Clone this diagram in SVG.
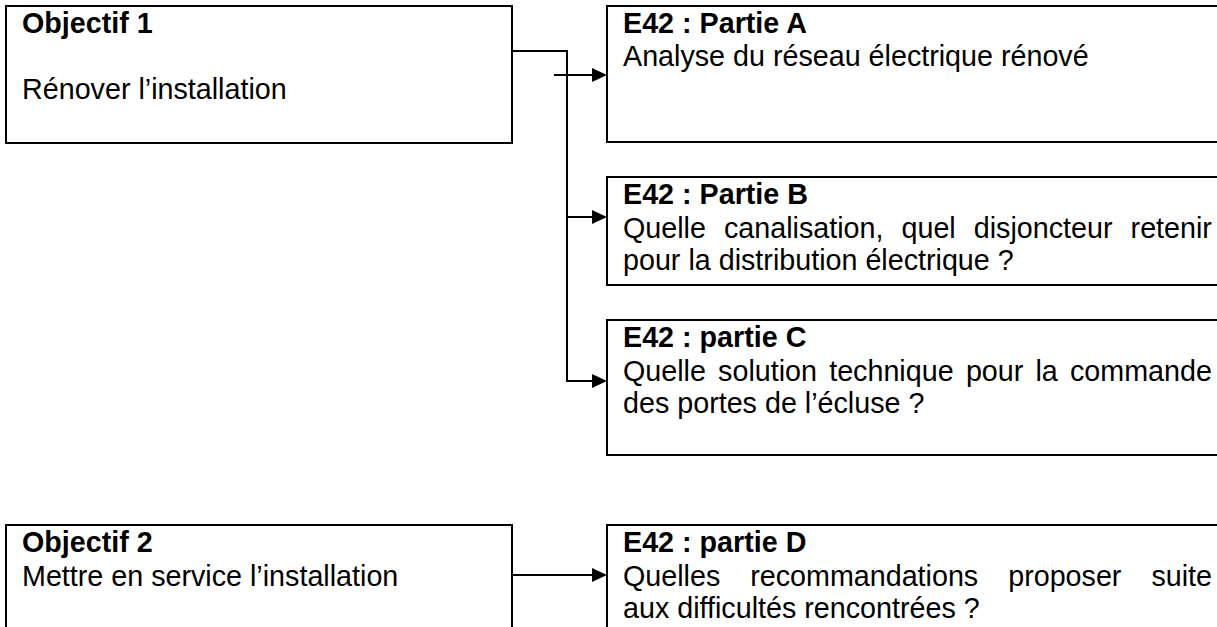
<svg xmlns="http://www.w3.org/2000/svg" width="1217" height="627" viewBox="0 0 1217 627">
<style>
.box{fill:#fff;stroke:#000;stroke-width:2}
.tx{font-family:"Liberation Sans",Arial,sans-serif;font-size:28.7px;fill:#000}
.b{font-weight:bold}
.cn{fill:none;stroke:#000;stroke-width:2}
</style>
<defs>
<marker id="ah" markerWidth="15" markerHeight="14" refX="8" refY="7" orient="auto" markerUnits="userSpaceOnUse"><path d="M0,0 L15,7 L0,14 z" fill="#000"/></marker>
</defs>
<rect width="1217" height="627" fill="#fff"/>
<g id="connectors">
<path class="cn" d="M512,51 H567 V381 H600" marker-end="url(#ah)"/>
<path class="cn" d="M554,75 H600" marker-end="url(#ah)"/>
<path class="cn" d="M567,217 H600" marker-end="url(#ah)"/>
<path class="cn" d="M512,575 H600" marker-end="url(#ah)"/>
</g>
<g id="objectif1">
<rect class="box" x="6" y="6" width="506" height="137"/>
<text class="tx b" x="22" y="33">Objectif 1</text>
<text class="tx" x="22" y="99">Rénover l’installation</text>
</g>
<g id="partieA">
<rect class="box" x="607" y="6" width="630" height="136"/>
<text class="tx b" x="623" y="33">E42 : Partie A</text>
<text class="tx" x="623" y="66">Analyse du réseau électrique rénové</text>
</g>
<g id="partieB">
<rect class="box" x="607" y="177" width="630" height="108"/>
<text class="tx b" x="623" y="204">E42 : Partie B</text>
<text class="tx" y="238"><tspan x="623">Quelle</tspan><tspan x="724">canalisation,</tspan><tspan x="901.5">quel</tspan><tspan x="973.8">disjoncteur</tspan><tspan x="1130.6">retenir</tspan></text>
<text class="tx" x="623" y="270">pour la distribution électrique ?</text>
</g>
<g id="partieC">
<rect class="box" x="607" y="320" width="630" height="135"/>
<text class="tx b" x="623" y="347">E42 : partie C</text>
<text class="tx" y="381"><tspan x="623">Quelle</tspan><tspan x="718.1">solution</tspan><tspan x="829.2">technique</tspan><tspan x="965.9">pour</tspan><tspan x="1035.5">la</tspan><tspan x="1070">commande</tspan></text>
<text class="tx" x="623" y="413">des portes de l’écluse ?</text>
</g>
<g id="objectif2">
<rect class="box" x="6" y="525" width="506" height="130"/>
<text class="tx b" x="22" y="552">Objectif 2</text>
<text class="tx" x="22" y="586">Mettre en service l’installation</text>
</g>
<g id="partieD">
<rect class="box" x="607" y="525" width="630" height="130"/>
<text class="tx b" x="623" y="552">E42 : partie D</text>
<text class="tx" y="586"><tspan x="623">Quelles</tspan><tspan x="750.2">recommandations</tspan><tspan x="1008.2">proposer</tspan><tspan x="1151.4">suite</tspan></text>
<text class="tx" x="623" y="618">aux difficultés rencontrées ?</text>
</g>
</svg>
